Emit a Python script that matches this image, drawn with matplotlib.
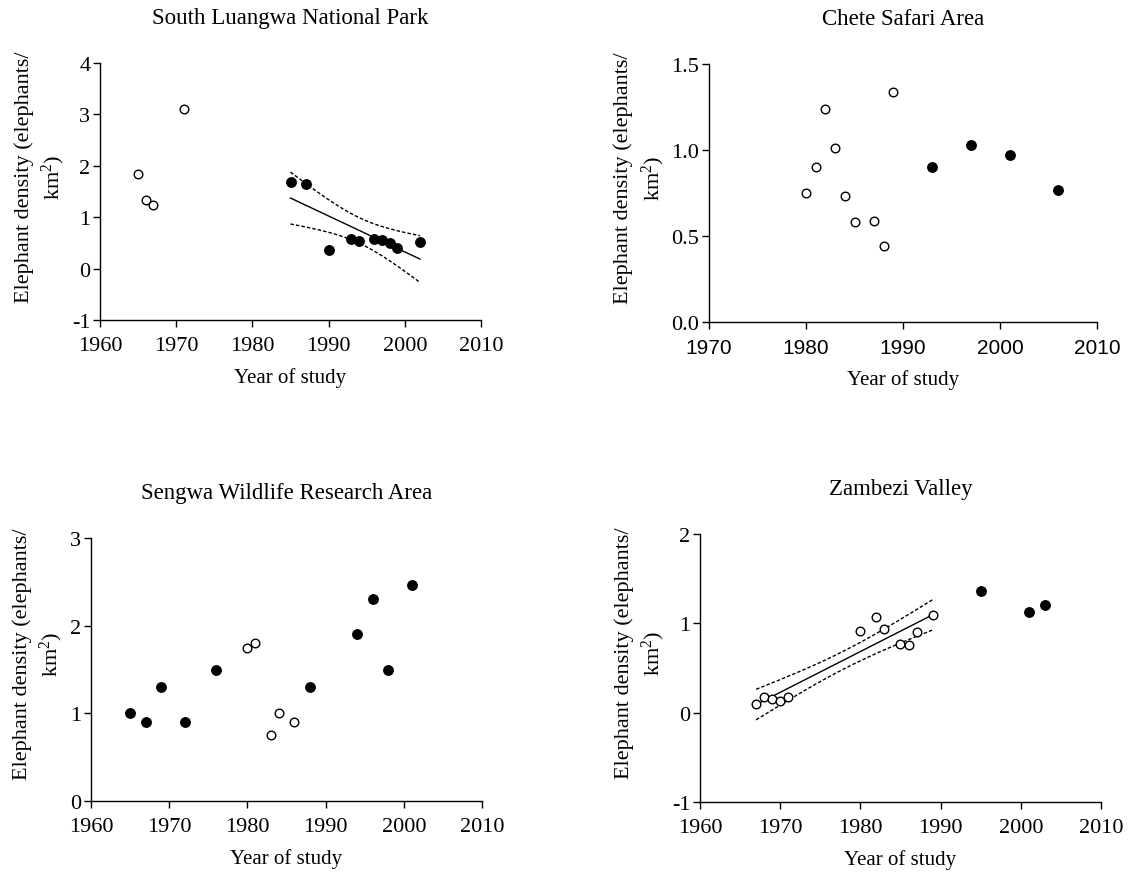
import numpy as np
import matplotlib
matplotlib.use('Agg')
import matplotlib.pyplot as plt

plt.rcParams['font.family'] = ['Liberation Serif', 'DejaVu Serif']
plt.rcParams['mathtext.fontset'] = 'custom'
plt.rcParams['mathtext.rm'] = 'Liberation Serif'
plt.rcParams['mathtext.it'] = 'Liberation Serif:italic'
plt.rcParams['axes.unicode_minus'] = False

# South Luangwa National Park
sl_open_year = [1965, 1966, 1967, 1971]
sl_open_dens = [1.85, 1.33, 1.23, 3.10]
sl_fill_year = [1985, 1987, 1990, 1993, 1994, 1996, 1997, 1998, 1999, 2002]
sl_fill_dens = [1.69, 1.65, 0.36, 0.58, 0.53, 0.58, 0.56, 0.49, 0.41, 0.52]

# Chete Safari Area
ch_open_year = [1980, 1981, 1982, 1983, 1984, 1985, 1987, 1988, 1989]
ch_open_dens = [0.75, 0.90, 1.24, 1.01, 0.73, 0.58, 0.59, 0.44, 1.34]
ch_fill_year = [1993, 1997, 2001, 2006]
ch_fill_dens = [0.90, 1.03, 0.97, 0.77]

# Sengwa Wildlife Research Area
se_open_year = [1980, 1981, 1983, 1984, 1986]
se_open_dens = [1.75, 1.80, 0.75, 1.00, 0.90]
se_fill_year = [1965, 1967, 1969, 1972, 1976, 1988, 1994, 1996, 1998, 2001]
se_fill_dens = [1.00, 0.90, 1.30, 0.90, 1.50, 1.30, 1.90, 2.30, 1.50, 2.46]

# Zambezi Valley
zv_open_year = [1967, 1968, 1969, 1970, 1971, 1980, 1982, 1983, 1985, 1986, 1987, 1989]
zv_open_dens = [0.10, 0.17, 0.15, 0.13, 0.17, 0.91, 1.07, 0.94, 0.77, 0.76, 0.90, 1.09]
zv_fill_year = [1995, 2001, 2003]
zv_fill_dens = [1.36, 1.13, 1.21]

# two-sided 95% t quantiles by degrees of freedom
T95 = {8: 2.306, 10: 2.228}

W, H = 1131, 878
fig = plt.figure(figsize=(W / 100, H / 100), dpi=100)


def px_axes(left, right, top, bottom):
    return fig.add_axes([left / W, 1 - bottom / H, (right - left) / W, (bottom - top) / H])


def regression(ax, x, y):
    x = np.asarray(x, float)
    y = np.asarray(y, float)
    n = len(x)
    b, a = np.polyfit(x, y, 1)
    resid = y - (a + b * x)
    s = np.sqrt(np.sum(resid ** 2) / (n - 2))
    sxx = np.sum((x - x.mean()) ** 2)
    xs = np.linspace(x.min(), x.max(), 100)
    fit = a + b * xs
    half = T95[n - 2] * s * np.sqrt(1.0 / n + (xs - x.mean()) ** 2 / sxx)
    ax.plot(xs, fit, '-', color='black', lw=1.0, zorder=2)
    ax.plot(xs, fit + half, color='black', lw=1.0, ls=(0, (2.5, 1.5)), zorder=2)
    ax.plot(xs, fit - half, color='black', lw=1.0, ls=(0, (2.5, 1.5)), zorder=2)


def panel(ax, title, oy, od, fy, fd, xlim, ylim, yticks, yfmt, sans_x=False):
    ax.plot(oy, od, 'o', ms=6.2, mfc='white', mec='black', mew=1.0, zorder=3)
    ax.plot(fy, fd, 'o', ms=6.8, mfc='black', mec='black', zorder=3)
    ax.set_xlim(*xlim)
    ax.set_ylim(*ylim)
    ax.set_xticks(np.arange(xlim[0], xlim[1] + 1, 10))
    ax.set_yticks(yticks)
    ax.set_yticklabels([yfmt % v for v in yticks])
    for s in ['top', 'right']:
        ax.spines[s].set_visible(False)
    for s in ['left', 'bottom']:
        ax.spines[s].set_linewidth(1.0)
    ax.tick_params(direction='out', length=5, width=1.0, labelsize=16)
    ax.tick_params(axis='x', pad=6.5)
    ax.tick_params(axis='y', pad=2)
    if sans_x:
        for lab in ax.get_xticklabels():
            lab.set_family('Liberation Sans')
            lab.set_fontsize(15)
    ax.set_title(title, fontsize=16.5, pad=28.5)
    ax.set_xlabel('Year of study', fontsize=15, labelpad=9)
    ax.set_ylabel('Elephant density (elephants/\nkm$^{2}$)', fontsize=16, labelpad=3.5,
                  linespacing=1.3)
    ax.yaxis.label.set_y(0.56)


ax1 = px_axes(100, 481, 64, 321)
panel(ax1, 'South Luangwa National Park', sl_open_year, sl_open_dens, sl_fill_year, sl_fill_dens,
      (1960, 2010), (-1, 4), [-1, 0, 1, 2, 3, 4], '%d')
regression(ax1, sl_fill_year, sl_fill_dens)

ax2 = px_axes(709, 1097, 65, 323)
panel(ax2, 'Chete Safari Area', ch_open_year, ch_open_dens, ch_fill_year, ch_fill_dens,
      (1970, 2010), (0, 1.5), [0.0, 0.5, 1.0, 1.5], '%.1f', sans_x=True)

ax3 = px_axes(91, 482, 539, 802)
panel(ax3, 'Sengwa Wildlife Research Area', se_open_year, se_open_dens, se_fill_year, se_fill_dens,
      (1960, 2010), (0, 3), [0, 1, 2, 3], '%d')

ax4 = px_axes(700, 1101, 535, 803)
panel(ax4, 'Zambezi Valley', zv_open_year, zv_open_dens, zv_fill_year, zv_fill_dens,
      (1960, 2010), (-1, 2), [-1, 0, 1, 2], '%d')
regression(ax4, zv_open_year, zv_open_dens)

fig.savefig('out.png', dpi=100)
